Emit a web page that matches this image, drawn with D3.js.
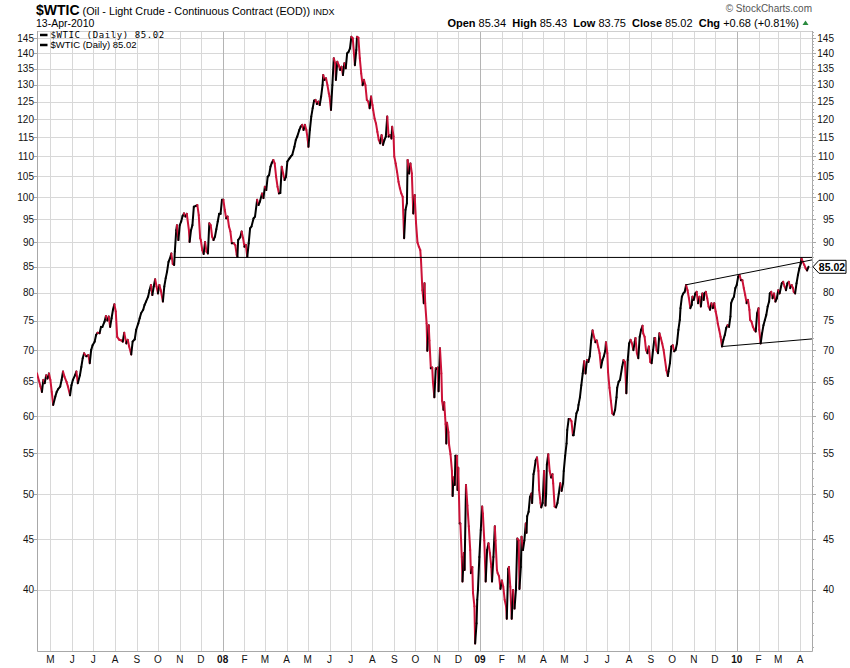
<!DOCTYPE html>
<html>
<head>
<meta charset="utf-8">
<title>$WTIC</title>
<script src="https://cdn.jsdelivr.net/npm/d3@7"></script>
<style>
  body { margin: 0; background: #fff; }
  #chart { display: block; font-family: "Liberation Sans", Arial, sans-serif; }
</style>
</head>
<body>
<svg id="chart" width="850" height="668"></svg>
<script>
// closes, one line per month
var dates = [
  "2007-04-12","2007-04-17","2007-04-19","2007-04-21","2007-04-23","2007-04-25","2007-04-27","2007-04-29",
  "2007-05-01","2007-05-03","2007-05-05","2007-05-08","2007-05-10","2007-05-12","2007-05-15","2007-05-17","2007-05-19","2007-05-21","2007-05-24","2007-05-26","2007-05-29","2007-05-31",
  "2007-06-02","2007-06-05","2007-06-07","2007-06-09","2007-06-12","2007-06-14","2007-06-16","2007-06-18","2007-06-21","2007-06-24","2007-06-26","2007-06-28","2007-06-30",
  "2007-07-03","2007-07-05","2007-07-07","2007-07-10","2007-07-12","2007-07-14","2007-07-17","2007-07-19","2007-07-21","2007-07-23","2007-07-25","2007-07-27","2007-07-29","2007-07-31",
  "2007-08-02","2007-08-04","2007-08-07","2007-08-10","2007-08-12","2007-08-14","2007-08-17","2007-08-19","2007-08-21","2007-08-24","2007-08-26","2007-08-29","2007-08-31",
  "2007-09-03","2007-09-05","2007-09-07","2007-09-10","2007-09-12","2007-09-14","2007-09-17","2007-09-19","2007-09-21","2007-09-23","2007-09-25","2007-09-27","2007-09-29",
  "2007-10-01","2007-10-03","2007-10-05","2007-10-08","2007-10-10","2007-10-12","2007-10-14","2007-10-16","2007-10-18","2007-10-20","2007-10-22","2007-10-24","2007-10-25","2007-10-27","2007-10-28","2007-10-30",
  "2007-11-01","2007-11-03","2007-11-05","2007-11-07","2007-11-09","2007-11-11","2007-11-14","2007-11-15","2007-11-17","2007-11-19","2007-11-21","2007-11-24","2007-11-26","2007-11-28","2007-11-30",
  "2007-12-01","2007-12-03","2007-12-05","2007-12-07","2007-12-09","2007-12-11","2007-12-13","2007-12-15","2007-12-17","2007-12-19","2007-12-21","2007-12-23","2007-12-25","2007-12-27","2007-12-29","2007-12-31",
  "2008-01-02","2008-01-04","2008-01-06","2008-01-08","2008-01-10","2008-01-12","2008-01-14","2008-01-17","2008-01-19","2008-01-21","2008-01-22","2008-01-23","2008-01-26","2008-01-28","2008-01-30",
  "2008-02-01","2008-02-03","2008-02-05","2008-02-07","2008-02-09","2008-02-11","2008-02-14","2008-02-16","2008-02-19","2008-02-21","2008-02-23","2008-02-26","2008-02-28",
  "2008-03-01","2008-03-03","2008-03-05","2008-03-07","2008-03-09","2008-03-11","2008-03-13","2008-03-15","2008-03-17","2008-03-19","2008-03-21","2008-03-23","2008-03-25","2008-03-27","2008-03-29","2008-03-31",
  "2008-04-02","2008-04-05","2008-04-07","2008-04-09","2008-04-12","2008-04-14","2008-04-16","2008-04-19","2008-04-21","2008-04-23","2008-04-25","2008-04-27","2008-04-29",
  "2008-05-01","2008-05-02","2008-05-04","2008-05-06","2008-05-08","2008-05-10","2008-05-12","2008-05-14","2008-05-16","2008-05-18","2008-05-20","2008-05-22","2008-05-23","2008-05-25","2008-05-27","2008-05-29","2008-05-31",
  "2008-06-01","2008-06-03","2008-06-05","2008-06-07","2008-06-09","2008-06-10","2008-06-12","2008-06-14","2008-06-16","2008-06-18","2008-06-20","2008-06-22","2008-06-24","2008-06-26","2008-06-28","2008-06-30",
  "2008-07-02","2008-07-04","2008-07-07","2008-07-09","2008-07-10","2008-07-12","2008-07-14","2008-07-16","2008-07-18","2008-07-20","2008-07-22","2008-07-24","2008-07-26","2008-07-28","2008-07-30",
  "2008-08-01","2008-08-02","2008-08-04","2008-08-06","2008-08-08","2008-08-10","2008-08-12","2008-08-14","2008-08-16","2008-08-18","2008-08-20","2008-08-22","2008-08-24","2008-08-26","2008-08-28","2008-08-29","2008-08-31",
  "2008-09-01","2008-09-03","2008-09-05","2008-09-07","2008-09-09","2008-09-11","2008-09-13","2008-09-15","2008-09-17","2008-09-19","2008-09-20","2008-09-22","2008-09-24","2008-09-26","2008-09-28","2008-09-30",
  "2008-10-02","2008-10-04","2008-10-06","2008-10-08","2008-10-09","2008-10-11","2008-10-13","2008-10-14","2008-10-15","2008-10-17","2008-10-18","2008-10-20","2008-10-21","2008-10-23","2008-10-25","2008-10-26","2008-10-28","2008-10-30","2008-10-31",
  "2008-11-02","2008-11-03","2008-11-05","2008-11-07","2008-11-08","2008-11-10","2008-11-11","2008-11-13","2008-11-14","2008-11-15","2008-11-17","2008-11-18","2008-11-20","2008-11-22","2008-11-23","2008-11-24","2008-11-26","2008-11-27","2008-11-29","2008-11-30",
  "2008-12-01","2008-12-03","2008-12-04","2008-12-06","2008-12-07","2008-12-09","2008-12-10","2008-12-12","2008-12-14","2008-12-16","2008-12-18","2008-12-19","2008-12-21","2008-12-22","2008-12-24","2008-12-25","2008-12-27","2008-12-28","2008-12-29","2008-12-31",
  "2009-01-02","2009-01-04","2009-01-05","2009-01-07","2009-01-09","2009-01-11","2009-01-13","2009-01-15","2009-01-17","2009-01-18","2009-01-20","2009-01-22","2009-01-23","2009-01-25","2009-01-26","2009-01-28","2009-01-30",
  "2009-02-01","2009-02-03","2009-02-05","2009-02-07","2009-02-08","2009-02-10","2009-02-11","2009-02-13","2009-02-15","2009-02-17","2009-02-19","2009-02-21","2009-02-23","2009-02-25","2009-02-26","2009-02-28",
  "2009-03-01","2009-03-03","2009-03-05","2009-03-07","2009-03-08","2009-03-09","2009-03-11","2009-03-13","2009-03-15","2009-03-16","2009-03-18","2009-03-19","2009-03-21","2009-03-23","2009-03-25","2009-03-26","2009-03-28","2009-03-29","2009-03-31",
  "2009-04-02","2009-04-04","2009-04-05","2009-04-06","2009-04-08","2009-04-10","2009-04-12","2009-04-14","2009-04-15","2009-04-17","2009-04-19","2009-04-21","2009-04-23","2009-04-25","2009-04-27","2009-04-29","2009-04-30",
  "2009-05-02","2009-05-04","2009-05-05","2009-05-07","2009-05-09","2009-05-11","2009-05-13","2009-05-14","2009-05-16","2009-05-18","2009-05-20","2009-05-21","2009-05-23","2009-05-25","2009-05-27","2009-05-29","2009-05-31",
  "2009-06-02","2009-06-04","2009-06-06","2009-06-08","2009-06-10","2009-06-12","2009-06-14","2009-06-16","2009-06-18","2009-06-20","2009-06-22","2009-06-24","2009-06-26","2009-06-28","2009-06-29",
  "2009-07-01","2009-07-02","2009-07-04","2009-07-06","2009-07-08","2009-07-10","2009-07-12","2009-07-14","2009-07-15","2009-07-17","2009-07-19","2009-07-22","2009-07-24","2009-07-26","2009-07-28","2009-07-30",
  "2009-08-01","2009-08-03","2009-08-05","2009-08-07","2009-08-09","2009-08-10","2009-08-12","2009-08-14","2009-08-16","2009-08-18","2009-08-20","2009-08-21","2009-08-23","2009-08-25","2009-08-27","2009-08-29","2009-08-31",
  "2009-09-02","2009-09-04","2009-09-06","2009-09-07","2009-09-09","2009-09-11","2009-09-13","2009-09-15","2009-09-17","2009-09-19","2009-09-21","2009-09-23","2009-09-25","2009-09-26","2009-09-28","2009-09-30",
  "2009-10-02","2009-10-04","2009-10-06","2009-10-08","2009-10-10","2009-10-12","2009-10-13","2009-10-15","2009-10-17","2009-10-19","2009-10-21","2009-10-23","2009-10-25","2009-10-27","2009-10-29","2009-10-30",
  "2009-11-01","2009-11-03","2009-11-05","2009-11-07","2009-11-09","2009-11-11","2009-11-13","2009-11-15","2009-11-16","2009-11-18","2009-11-20","2009-11-22","2009-11-24","2009-11-26","2009-11-28","2009-11-30",
  "2009-12-02","2009-12-04","2009-12-05","2009-12-07","2009-12-09","2009-12-11","2009-12-13","2009-12-15","2009-12-17","2009-12-19","2009-12-21","2009-12-23","2009-12-24","2009-12-26","2009-12-28","2009-12-30",
  "2010-01-01","2010-01-03","2010-01-05","2010-01-07","2010-01-09","2010-01-11","2010-01-13","2010-01-15","2010-01-17","2010-01-19","2010-01-20","2010-01-22","2010-01-24","2010-01-26","2010-01-28","2010-01-30",
  "2010-02-01","2010-02-02","2010-02-04","2010-02-06","2010-02-08","2010-02-10","2010-02-12","2010-02-14","2010-02-16","2010-02-17","2010-02-19","2010-02-21","2010-02-23","2010-02-25","2010-02-27",
  "2010-03-01","2010-03-03","2010-03-05","2010-03-06","2010-03-08","2010-03-10","2010-03-12","2010-03-14","2010-03-16","2010-03-18","2010-03-20","2010-03-22","2010-03-23","2010-03-25","2010-03-27","2010-03-29","2010-03-31",
  "2010-04-02","2010-04-03","2010-04-05","2010-04-07","2010-04-09","2010-04-11","2010-04-13"
];
var closes = [
  66.3,64.3,63.5,65.3,64.8,66.0,65.5,66.3,
  65.3,63.5,61.6,62.8,63.5,63.9,64.3,65.3,66.6,65.8,65.0,64.3,63.0,64.5,
  65.3,66.0,66.6,64.8,66.0,67.3,68.7,69.5,69.0,69.2,67.9,70.0,70.8,
  71.4,72.5,72.9,72.8,73.9,73.9,74.8,75.8,75.0,75.7,73.9,75.4,76.9,77.9,
  76.6,72.2,71.7,71.6,71.4,72.9,71.1,71.7,70.6,69.3,71.4,71.8,73.4,
  74.5,75.4,76.3,76.9,77.8,78.4,79.3,80.5,81.5,79.6,81.2,82.6,81.2,
  79.9,81.5,80.5,78.4,81.2,82.8,84.1,86.0,86.7,87.7,85.6,85.4,88.1,92.6,93.7,90.5,
  93.7,94.5,95.7,96.3,95.6,96.2,92.6,90.1,92.6,93.7,97.8,98.0,98.2,95.9,90.9,
  90.5,88.4,87.6,90.1,88.1,87.7,94.1,93.7,91.2,90.5,91.2,92.8,94.5,96.2,96.2,99.4,
  99.4,97.1,95.2,95.6,93.4,92.3,89.8,89.8,89.4,87.4,87.0,90.5,91.1,92.3,90.9,
  89.1,89.5,87.0,89.8,93.0,93.4,95.2,95.6,99.4,98.2,99.0,100.9,99.8,
  102.5,101.7,104.9,105.3,107.4,108.4,109.1,108.2,104.9,102.5,100.9,101.0,107.4,105.7,104.1,104.9,
  108.7,109.5,110.0,110.4,112.5,114.3,115.2,117.0,117.9,118.4,117.0,118.4,117.0,
  114.3,112.5,117.0,120.7,123.1,125.3,125.5,124.3,125.0,124.0,126.5,129.9,133.0,131.5,132.0,129.9,127.4,
  126.5,122.6,129.9,138.3,136.7,131.5,137.2,136.1,134.6,135.6,133.0,136.7,135.1,139.9,140.4,141.5,
  145.4,144.9,136.1,141.0,145.4,145.1,138.3,133.5,129.9,131.5,129.9,125.5,125.0,123.1,126.5,
  124.0,122.6,120.2,118.8,116.5,114.3,113.4,115.6,113.0,114.3,115.2,120.7,115.2,115.6,114.7,117.9,115.2,
  110.0,108.2,106.1,103.7,102.1,100.9,100.1,90.9,97.1,98.6,109.1,105.7,108.2,105.7,96.3,100.5,
  94.1,90.0,89.1,88.4,86.4,80.5,78.1,81.8,78.1,74.5,69.9,74.2,71.6,67.1,67.2,65.0,62.7,67.1,67.0,
  67.2,63.6,70.3,66.3,62.2,60.9,62.0,58.9,56.3,59.1,57.8,56.1,54.9,52.8,49.8,52.0,51.1,54.7,54.7,50.5,
  53.2,46.7,46.7,43.2,40.8,43.6,41.9,51.1,48.7,46.4,43.9,41.6,42.2,39.7,38.5,35.3,37.0,39.1,40.0,43.2,
  46.0,48.6,47.8,44.9,40.8,43.9,44.6,43.6,42.2,40.8,43.2,46.4,44.9,41.9,41.6,41.3,40.1,
  40.9,40.3,39.1,38.5,37.4,42.0,42.2,40.3,37.4,40.0,38.3,40.0,45.1,44.9,40.1,42.2,
  45.3,43.9,44.9,46.7,45.7,47.5,48.0,49.7,50.1,49.0,52.4,52.8,54.1,54.5,52.8,50.5,49.0,48.5,49.0,
  52.8,48.7,50.1,53.6,54.9,52.8,52.0,52.4,51.3,48.6,48.5,49.0,50.1,51.3,50.4,51.3,52.8,
  54.7,56.3,58.1,59.6,59.6,59.3,57.4,57.4,58.9,60.4,60.9,61.6,62.7,64.5,66.3,68.2,66.3,
  68.4,68.1,69.0,71.6,73.3,72.2,71.3,71.6,70.5,69.5,67.2,68.4,69.0,69.9,71.3,
  69.5,66.5,64.1,62.2,60.4,60.2,60.9,62.7,64.1,65.0,65.3,67.3,68.4,68.1,63.3,68.4,
  71.1,71.7,71.1,70.0,71.4,72.0,69.5,68.7,72.2,73.4,74.1,72.8,72.2,70.0,69.5,70.6,68.1,
  67.9,70.0,72.0,72.0,70.0,69.5,72.8,72.0,71.1,70.0,68.4,66.8,65.9,66.6,67.9,70.6,
  70.8,69.8,70.0,71.1,73.4,75.1,77.2,79.3,79.9,80.2,81.5,80.5,79.0,77.2,77.8,79.3,
  78.7,79.9,80.2,78.1,79.3,77.5,79.9,78.7,79.9,80.2,79.0,77.5,76.9,78.1,77.2,78.1,
  76.6,75.4,74.5,73.4,72.2,70.6,71.7,72.5,73.7,74.2,73.9,75.7,78.1,78.8,79.3,80.9,
  81.5,83.1,83.4,82.4,82.4,80.9,79.6,78.1,78.7,76.9,75.1,74.8,73.9,73.4,73.1,76.3,
  77.2,73.4,71.1,72.8,74.2,75.1,76.0,77.5,78.4,79.9,80.2,79.0,79.9,78.4,79.0,
  80.5,79.9,81.2,81.8,82.1,81.2,80.5,81.8,82.1,80.9,81.5,80.9,80.2,79.9,81.8,83.4,84.7,
  85.7,86.7,86.0,85.4,84.7,84.3,85.02
];

var priceTicks = d3.range(40, 146, 5);
var minorTicks = d3.range(35, 148, 1);
var monthLetters = ["J", "F", "M", "A", "M", "J", "J", "A", "S", "O", "N", "D"];

// hand drawn trend lines: [date, price] end points
var supportLine = [["2007-10-25", 86.9], ["2010-04-18", 86.9]];
var channelTop = [["2009-10-20", 81.5], ["2010-04-18", 86.4]];
var channelBottom = [["2009-12-12", 70.6], ["2010-04-18", 71.85]];

var quoteLabels = ["Open", "High", "Low", "Close", "Chg"];
var quoteValues = ["85.34", "85.43", "83.75", "85.02", "+0.68 (+0.81%)"];

var parseDate = d3.timeParse("%Y-%m-%d");
var series = dates.map(function(d, i) {
    return { date: parseDate(d), close: closes[i] };
});
var lastClose = closes[closes.length - 1];

var box = { left: 37, right: 812, top: 31, bottom: 651 };
var x = d3.scaleTime()
    .domain([parseDate("2007-04-12"), parseDate("2010-04-18")])
    .range([box.left, box.right]);
var y = d3.scaleLog()
    .domain([34.69, 147.39])
    .range([box.bottom, box.top]);

var svg = d3.select("#chart");
function crisp(v) { return Math.round(v) + 0.5; }

// grid
var months = d3.timeMonth.range(parseDate("2007-05-01"), parseDate("2010-04-18"));
svg.append("g").selectAll("line")
    .data(priceTicks)
    .enter().append("line")
    .attr("x1", box.left).attr("x2", box.right)
    .attr("y1", function(d) { return crisp(y(d)); })
    .attr("y2", function(d) { return crisp(y(d)); })
    .attr("stroke", "#d8d8d8");
svg.append("g").selectAll("line")
    .data(months)
    .enter().append("line")
    .attr("x1", function(d) { return crisp(x(d)); })
    .attr("x2", function(d) { return crisp(x(d)); })
    .attr("y1", box.top).attr("y2", box.bottom)
    .attr("stroke", function(d) { return d.getMonth() === 0 ? "#b4b4b4" : "#d8d8d8"; });

// frame
svg.append("line").attr("x1", box.left).attr("x2", box.right)
    .attr("y1", box.top + 0.5).attr("y2", box.top + 0.5).attr("stroke", "#cfcfcf");
svg.append("path")
    .attr("d", "M" + (box.left + 0.5) + "," + box.top + "V" + (box.bottom + 0.5) +
        "H" + (box.right + 0.5) + "V" + box.top)
    .attr("fill", "none").attr("stroke", "#a8a8a8");

// left axis
var leftAxis = svg.append("g").attr("font-size", "10px").attr("fill", "#111");
leftAxis.selectAll("line").data(priceTicks).enter().append("line")
    .attr("x1", box.left - 3).attr("x2", box.left)
    .attr("y1", function(d) { return crisp(y(d)); })
    .attr("y2", function(d) { return crisp(y(d)); })
    .attr("stroke", "#a8a8a8");
leftAxis.selectAll("text").data(priceTicks).enter().append("text")
    .attr("x", box.left - 3).attr("y", function(d) { return y(d) + 3.5; })
    .attr("text-anchor", "end")
    .text(function(d) { return d; });

// right axis
var rightAxis = svg.append("g").attr("font-size", "10px").attr("fill", "#111");
rightAxis.selectAll(".minor").data(minorTicks).enter().append("line")
    .attr("x1", box.right).attr("x2", box.right + 2)
    .attr("y1", function(d) { return crisp(y(d)); })
    .attr("y2", function(d) { return crisp(y(d)); })
    .attr("stroke", "#b0b0b0");
var rightTicks = priceTicks.filter(function(d) { return Math.abs(y(d) - y(lastClose)) > 8; });
rightAxis.selectAll(".major").data(rightTicks).enter().append("line")
    .attr("x1", box.right).attr("x2", box.right + 4)
    .attr("y1", function(d) { return crisp(y(d)); })
    .attr("y2", function(d) { return crisp(y(d)); })
    .attr("stroke", "#a8a8a8");
rightAxis.selectAll("text").data(rightTicks).enter().append("text")
    .attr("x", box.right + 22).attr("y", function(d) { return y(d) + 3.5; })
    .attr("text-anchor", "end")
    .text(function(d) { return d; });

// month axis
svg.append("g").selectAll("text")
    .data(months)
    .enter().append("text")
    .attr("x", function(d) { return x(d); })
    .attr("y", 663)
    .attr("text-anchor", "middle")
    .attr("font-size", "10px")
    .attr("font-weight", function(d) { return d.getMonth() === 0 ? "bold" : "normal"; })
    .attr("fill", "#111")
    .text(function(d) {
        return d.getMonth() === 0 ? d3.timeFormat("%y")(d) : monthLetters[d.getMonth()];
    });

// price line, black when up, red when down
svg.append("clipPath").attr("id", "plotClip").append("rect")
    .attr("x", box.left).attr("y", box.top)
    .attr("width", box.right - box.left).attr("height", box.bottom - box.top);
svg.append("g").attr("clip-path", "url(#plotClip)")
    .selectAll("line")
    .data(d3.pairs(series))
    .enter().append("line")
    .attr("x1", function(d) { return x(d[0].date); })
    .attr("y1", function(d) { return y(d[0].close); })
    .attr("x2", function(d) { return x(d[1].date); })
    .attr("y2", function(d) { return y(d[1].close); })
    .attr("stroke", function(d) { return d[1].close < d[0].close ? "#cc1238" : "#000"; })
    .attr("stroke-width", 2)
    .attr("stroke-linecap", "round");

// trend lines
svg.append("g").selectAll("line")
    .data([supportLine, channelTop, channelBottom])
    .enter().append("line")
    .attr("x1", function(d) { return x(parseDate(d[0][0])); })
    .attr("y1", function(d) { return y(d[0][1]); })
    .attr("x2", function(d) { return x(parseDate(d[1][0])); })
    .attr("y2", function(d) { return y(d[1][1]); })
    .attr("stroke", "#000")
    .attr("stroke-width", 1);

// last close tag
var cy = y(lastClose);
svg.append("path")
    .attr("d", "M" + (box.right + 1) + "," + cy + "L" + (box.right + 7) + "," + (cy - 6.5) +
        "H846V" + (cy + 6.5) + "H" + (box.right + 7) + "Z")
    .attr("fill", "#fff").attr("stroke", "#000");
svg.append("text")
    .attr("x", 832).attr("y", cy + 4)
    .attr("text-anchor", "middle")
    .attr("font-size", "10.5px").attr("font-weight", "bold")
    .text(lastClose.toFixed(2));

// legend
var legendRows = [
    { y: 35, font: "'DejaVu Sans Mono', monospace", size: "9px", spacing: "0.6px" },
    { y: 45, font: "'Liberation Sans', Arial, sans-serif", size: "9.5px", spacing: "0px" }
];
var legend = svg.append("g").selectAll("g").data(legendRows).enter().append("g");
legend.append("line")
    .attr("x1", 40).attr("x2", 47.5)
    .attr("y1", function(d) { return d.y; }).attr("y2", function(d) { return d.y; })
    .attr("stroke", "#000").attr("stroke-width", 2.5);
legend.append("text")
    .attr("x", 50.5).attr("y", function(d) { return d.y + 3.3; })
    .attr("font-family", function(d) { return d.font; })
    .attr("font-size", function(d) { return d.size; })
    .attr("letter-spacing", function(d) { return d.spacing; })
    .text("$WTIC (Daily) " + lastClose.toFixed(2));

// header
var title = svg.append("text").attr("x", 36).attr("y", 15).attr("fill", "#000");
title.append("tspan").attr("font-size", "14px").attr("font-weight", "bold").text("$WTIC");
title.append("tspan").attr("font-size", "10.8px").text(" (Oil - Light Crude - Continuous Contract (EOD)) ");
title.append("tspan").attr("font-size", "9px").text("INDX");
svg.append("text").attr("x", 36).attr("y", 26.5).attr("font-size", "10.5px").text("13-Apr-2010");
svg.append("text").attr("x", 812).attr("y", 12).attr("text-anchor", "end")
    .attr("font-size", "10px").attr("fill", "#555").text("\u00a9 StockCharts.com");

var quote = svg.append("text").attr("x", 799).attr("y", 26.5)
    .attr("text-anchor", "end").attr("font-size", "11px");
quoteLabels.forEach(function(label, i) {
    quote.append("tspan").attr("font-weight", "bold").text((i ? "  " : "") + label + " ");
    quote.append("tspan").text(quoteValues[i]);
});
quote.attr("xml:space", "preserve");
svg.append("path")
    .attr("d", "M802.5,25L805.5,20.5L808.5,25Z")
    .attr("fill", "#2a8a3e");
</script>
</body>
</html>
